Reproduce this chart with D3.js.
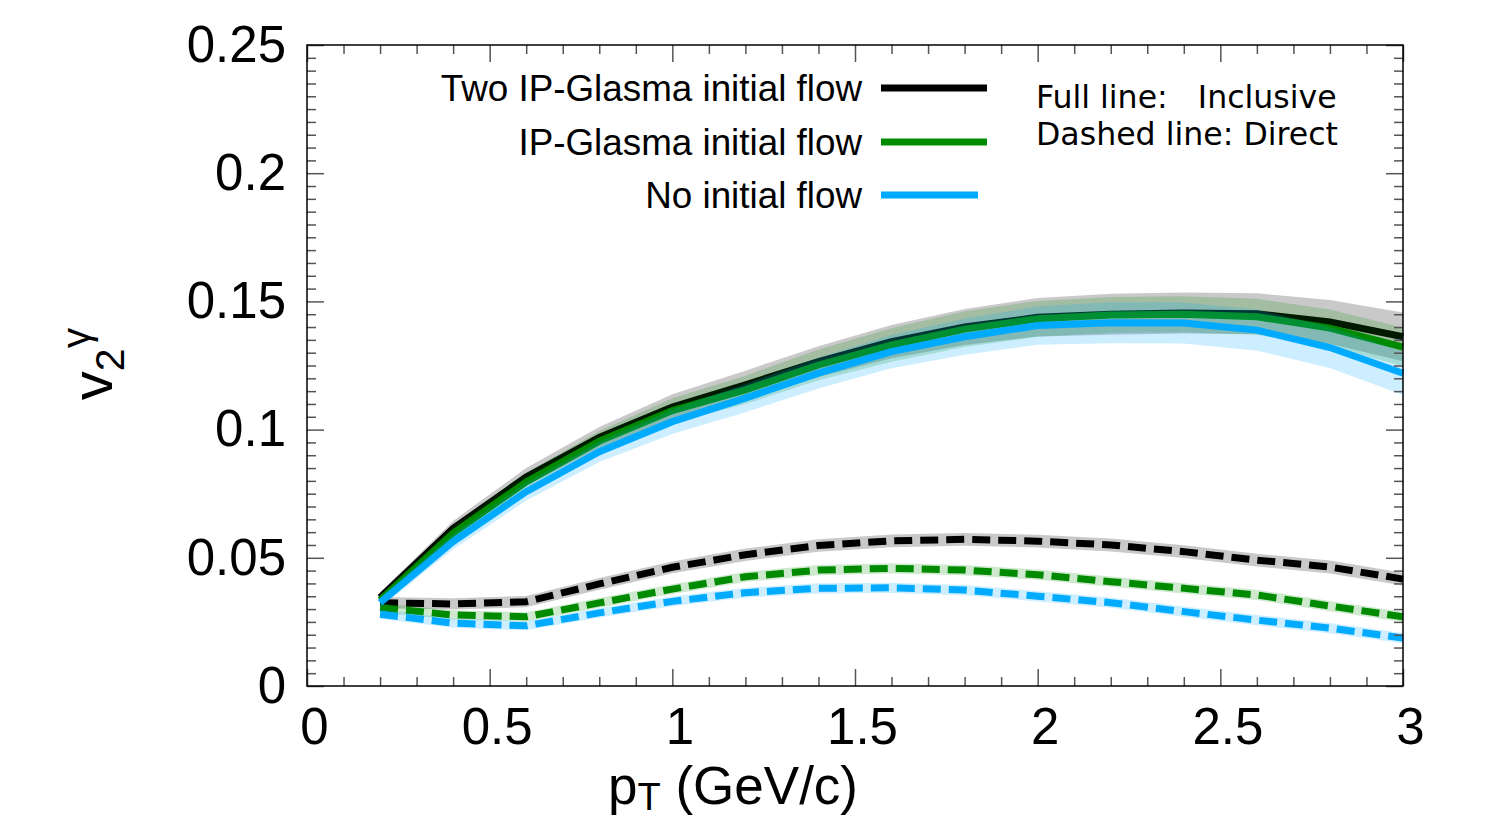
<!DOCTYPE html>
<html>
<head>
<meta charset="utf-8">
<script src="https://cdn.jsdelivr.net/npm/d3@7"></script>
<style>
  body { margin: 0; background: #fff; }
  svg { display: block; }
</style>
</head>
<body>
<svg id="chart" width="1490" height="818"></svg>
<script>
// Transverse momentum grid (GeV/c)
const pT = [0.2, 0.4, 0.6, 0.8, 1.0, 1.2, 1.4, 1.6, 1.8, 2.0, 2.2, 2.4, 2.6, 2.8, 3.0];

// Inclusive photon v2 (full lines) and their uncertainty half-widths
const twoGlasmaIncl    = [0.0345, 0.0614, 0.0815, 0.0970, 0.1088, 0.1175, 0.1265, 0.1343, 0.1400, 0.1438, 0.1450, 0.1455, 0.1452, 0.1420, 0.1362];
const twoGlasmaInclErr = [0.002, 0.003, 0.0035, 0.004, 0.005, 0.0055, 0.006, 0.0065, 0.007, 0.0075, 0.008, 0.008, 0.008, 0.0085, 0.0095];
const glasmaIncl       = [0.0335, 0.0596, 0.0796, 0.0955, 0.1074, 0.1155, 0.1252, 0.1330, 0.1392, 0.1432, 0.1447, 0.1450, 0.1440, 0.1396, 0.1322];
const glasmaInclErr    = [0.002, 0.003, 0.0035, 0.004, 0.0048, 0.0055, 0.006, 0.0065, 0.007, 0.007, 0.007, 0.007, 0.007, 0.0072, 0.0075];
const noFlowIncl       = [0.0325, 0.0563, 0.0758, 0.0914, 0.1031, 0.1123, 0.1220, 0.1304, 0.1362, 0.1406, 0.1417, 0.1416, 0.1388, 0.1320, 0.1220];
const noFlowInclErr    = [0.002, 0.003, 0.0035, 0.004, 0.0048, 0.0055, 0.006, 0.0065, 0.007, 0.0075, 0.008, 0.008, 0.008, 0.008, 0.0085];

// Direct photon v2 (dashed lines) and their uncertainty half-widths
const twoGlasmaDir    = [0.0325, 0.0320, 0.0329, 0.0398, 0.0463, 0.0512, 0.0548, 0.0566, 0.0572, 0.0565, 0.0550, 0.0524, 0.0491, 0.0464, 0.0417];
const twoGlasmaDirErr = [0.0022, 0.0022, 0.0022, 0.0023, 0.0023, 0.0024, 0.0024, 0.0025, 0.0025, 0.0025, 0.0025, 0.0025, 0.0025, 0.0025, 0.0025];
const glasmaDir       = [0.0305, 0.0277, 0.0270, 0.0324, 0.0378, 0.0426, 0.0452, 0.0459, 0.0452, 0.0434, 0.0407, 0.0381, 0.0355, 0.0312, 0.0270];
const glasmaDirErr    = [0.0018, 0.0018, 0.0018, 0.0019, 0.0019, 0.002, 0.002, 0.002, 0.002, 0.002, 0.002, 0.002, 0.002, 0.002, 0.002];
const noFlowDir       = [0.0280, 0.0245, 0.0235, 0.0285, 0.0330, 0.0364, 0.0381, 0.0383, 0.0374, 0.0350, 0.0325, 0.0290, 0.0257, 0.0226, 0.0187];
const noFlowDirErr    = [0.0018, 0.0018, 0.0018, 0.0018, 0.0019, 0.0019, 0.002, 0.002, 0.002, 0.002, 0.002, 0.002, 0.002, 0.002, 0.002];

// Legend entries and series colours
const seriesNames  = ["Two IP-Glasma initial flow", "IP-Glasma initial flow", "No initial flow"];
const seriesColors = ["#000000", "#008a00", "#00aaff"];
const bandColors   = ["rgba(0,0,0,0.21)", "rgba(0,138,0,0.19)", "rgba(0,170,255,0.2)"];

// Axis ticks
const xMajor = [0, 0.5, 1, 1.5, 2, 2.5, 3];
const xTickLabels = ["0", "0.5", "1", "1.5", "2", "2.5", "3"];
const yMajor = [0, 0.05, 0.1, 0.15, 0.2, 0.25];
const yTickLabels = ["0", "0.05", "0.1", "0.15", "0.2", "0.25"];

const svg = d3.select("#chart");
const plotLeft = 307, plotRight = 1403, plotTop = 45, plotBottom = 686;
const x = d3.scaleLinear().domain([0, 3]).range([plotLeft, plotRight]);
const y = d3.scaleLinear().domain([0, 0.25]).range([plotBottom, plotTop]);

const FONT = "'Liberation Sans', Arial, sans-serif";

// ----- uncertainty bands, one quad per segment -----
const band = d3.area().x(d => x(d.x)).y0(d => y(d.lo)).y1(d => y(d.hi));
const line = d3.line().x(d => x(d.x)).y(d => y(d.v));

function drawSeries(vals, errs, color, fill, dashed) {
  const pts = pT.map((p, i) => ({ x: p, v: vals[i], lo: vals[i] - errs[i], hi: vals[i] + errs[i] }));
  const g = svg.append("g");
  for (let i = 0; i < pts.length - 1; i++) {
    g.append("path").attr("d", band([pts[i], pts[i + 1]])).attr("fill", fill);
  }
  const path = svg.append("path")
    .attr("d", line(pts))
    .attr("fill", "none")
    .attr("stroke", color)
    .attr("stroke-width", 7)
    .attr("stroke-linejoin", "miter");
  if (dashed) path.attr("stroke-dasharray", "18,8");
}

const incl = [[twoGlasmaIncl, twoGlasmaInclErr], [glasmaIncl, glasmaInclErr], [noFlowIncl, noFlowInclErr]];
const dir  = [[twoGlasmaDir, twoGlasmaDirErr], [glasmaDir, glasmaDirErr], [noFlowDir, noFlowDirErr]];
for (let k = 0; k < 3; k++) {
  drawSeries(dir[k][0], dir[k][1], seriesColors[k], bandColors[k], true);
  drawSeries(incl[k][0], incl[k][1], seriesColors[k], bandColors[k], false);
}

// ----- axes: major/minor ticks pointing inward on all four sides -----
const tickColor = "#555";
function styleAxis(g) {
  g.select(".domain").remove();
  g.selectAll(".tick line").attr("stroke", tickColor).attr("stroke-width", 1.5);
  g.selectAll(".tick text").attr("font-family", FONT).attr("font-size", 51).attr("fill", "#000");
}
const xMinor = d3.range(0, 3.0001, 0.1).filter(v => Math.abs(v * 2 - Math.round(v * 2)) > 1e-6);
const yMinor = d3.range(0, 0.25001, 0.005).filter(v => Math.abs(v * 20 - Math.round(v * 20)) > 1e-6);

svg.append("g").attr("transform", `translate(0,${plotBottom})`)
  .call(d3.axisBottom(x).tickValues(xMajor).tickSize(-17).tickPadding(22).tickFormat((d, i) => xTickLabels[i]))
  .call(styleAxis)
  .call(g => g.selectAll(".tick text").attr("dx", 7));
svg.append("g").attr("transform", `translate(0,${plotBottom})`)
  .call(d3.axisBottom(x).tickValues(xMinor).tickSize(-9).tickFormat(""))
  .call(styleAxis);
svg.append("g").attr("transform", `translate(0,${plotTop})`)
  .call(d3.axisTop(x).tickValues(xMajor).tickSize(-17).tickFormat(""))
  .call(styleAxis);
svg.append("g").attr("transform", `translate(0,${plotTop})`)
  .call(d3.axisTop(x).tickValues(xMinor).tickSize(-9).tickFormat(""))
  .call(styleAxis);
svg.append("g").attr("transform", `translate(${plotLeft},0)`)
  .call(d3.axisLeft(y).tickValues(yMajor).tickSize(-17).tickPadding(21).tickFormat((d, i) => yTickLabels[i]))
  .call(styleAxis);
svg.append("g").attr("transform", `translate(${plotLeft},0)`)
  .call(d3.axisLeft(y).tickValues(yMinor).tickSize(-9).tickFormat(""))
  .call(styleAxis);
svg.append("g").attr("transform", `translate(${plotRight},0)`)
  .call(d3.axisRight(y).tickValues(yMajor).tickSize(-17).tickFormat(""))
  .call(styleAxis);
svg.append("g").attr("transform", `translate(${plotRight},0)`)
  .call(d3.axisRight(y).tickValues(yMinor).tickSize(-9).tickFormat(""))
  .call(styleAxis);

// plot frame
svg.append("rect")
  .attr("x", plotLeft).attr("y", plotTop)
  .attr("width", plotRight - plotLeft).attr("height", plotBottom - plotTop)
  .attr("fill", "none").attr("stroke", "#000").attr("stroke-width", 1.5);

// ----- axis titles -----
const xTitle = svg.append("text")
  .attr("x", 608).attr("y", 804)
  .attr("font-family", FONT).attr("font-size", 53).attr("fill", "#000");
xTitle.append("tspan").text("p");
xTitle.append("tspan").attr("font-size", 38).attr("dy", 6).text("T");
xTitle.append("tspan").attr("dy", -6).text(" (GeV/c)");

const yTitle = svg.append("text")
  .attr("transform", "translate(112,364) rotate(-90)")
  .attr("text-anchor", "middle")
  .attr("font-family", FONT).attr("font-size", 58).attr("fill", "#000");
yTitle.append("tspan").text("v");
yTitle.append("tspan").attr("font-size", 41).attr("dy", 12).text("2");
yTitle.append("tspan").attr("font-size", 41).attr("dy", -34).text("γ");

// ----- legend -----
const legY = [88, 142, 195];
const legEnd = [987, 987, 978];
seriesNames.forEach((name, i) => {
  svg.append("text")
    .attr("x", 862).attr("y", legY[i] + 13)
    .attr("text-anchor", "end")
    .attr("font-family", FONT).attr("font-size", 36.8).attr("fill", "#000")
    .text(name);
  svg.append("line")
    .attr("x1", 881).attr("x2", legEnd[i])
    .attr("y1", legY[i]).attr("y2", legY[i])
    .attr("stroke", seriesColors[i]).attr("stroke-width", 7);
});

// line-style note
const notes = ["Full line:\u00a0\u00a0\u00a0Inclusive", "Dashed line: Direct"];
notes.forEach((t, i) => {
  svg.append("text")
    .attr("x", 1036).attr("y", 108 + i * 37)
    .attr("font-family", "'DejaVu Sans', sans-serif").attr("font-size", 31.6).attr("fill", "#000")
    .text(t);
});
</script>
</body>
</html>
